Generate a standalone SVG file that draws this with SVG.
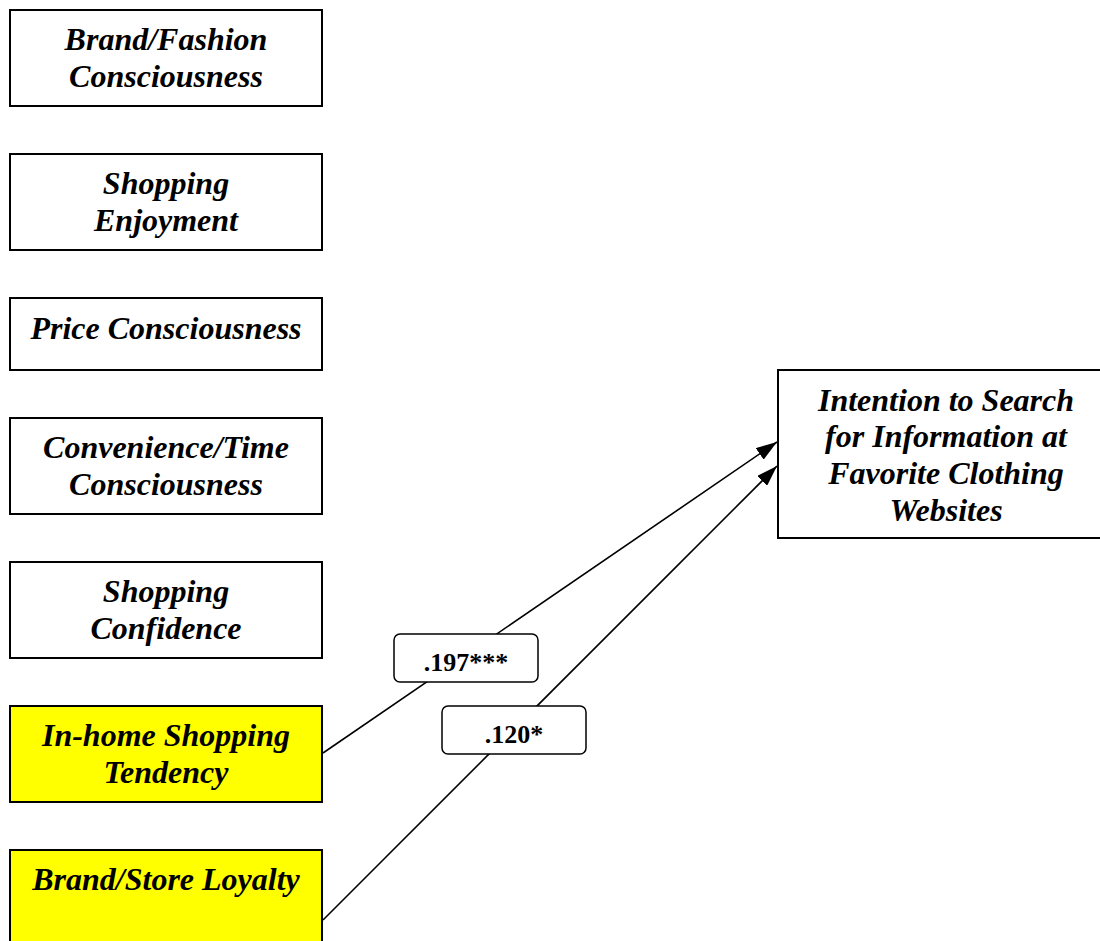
<svg xmlns="http://www.w3.org/2000/svg" width="1100" height="941" viewBox="0 0 1100 941">
  <style>
    .box { fill: #ffffff; stroke: #000000; stroke-width: 2; }
    .hl { fill: #ffff00; }
    .lbl { font-family: "Liberation Serif", "Times New Roman", serif; font-size: 32px; font-weight: bold; font-style: italic; text-anchor: middle; fill: #000000; }
    .coef { font-family: "Liberation Serif", "Times New Roman", serif; font-size: 26px; font-weight: bold; text-anchor: middle; fill: #000000; }
    .pill { fill: #ffffff; stroke: #000000; stroke-width: 1.5; }
    .edge { stroke: #000000; stroke-width: 1.6; fill: none; marker-end: url(#arrow); }
  </style>
  <defs>
    <marker id="arrow" markerUnits="userSpaceOnUse" markerWidth="22" markerHeight="14" refX="21" refY="7" orient="auto">
      <path d="M0,0 L21,7 L0,14 z" fill="#000000"/>
    </marker>
  </defs>

  <g id="node-brand-fashion">
    <rect class="box" x="10" y="10" width="312" height="96"/>
    <text class="lbl" x="166" y="50">Brand/Fashion</text>
    <text class="lbl" x="166" y="87">Consciousness</text>
  </g>
  <g id="node-shopping-enjoyment">
    <rect class="box" x="10" y="154" width="312" height="96"/>
    <text class="lbl" x="166" y="194">Shopping</text>
    <text class="lbl" x="166" y="231">Enjoyment</text>
  </g>
  <g id="node-price">
    <rect class="box" x="10" y="298" width="312" height="72"/>
    <text class="lbl" x="166" y="339">Price Consciousness</text>
  </g>
  <g id="node-convenience">
    <rect class="box" x="10" y="418" width="312" height="96"/>
    <text class="lbl" x="166" y="458">Convenience/Time</text>
    <text class="lbl" x="166" y="495">Consciousness</text>
  </g>
  <g id="node-confidence">
    <rect class="box" x="10" y="562" width="312" height="96"/>
    <text class="lbl" x="166" y="602">Shopping</text>
    <text class="lbl" x="166" y="639">Confidence</text>
  </g>
  <g id="node-inhome">
    <rect class="box hl" x="10" y="706" width="312" height="96"/>
    <text class="lbl" x="166" y="746">In-home Shopping</text>
    <text class="lbl" x="166" y="783">Tendency</text>
  </g>
  <g id="node-loyalty">
    <rect class="box hl" x="10" y="850" width="312" height="110"/>
    <text class="lbl" x="166" y="890">Brand/Store Loyalty</text>
  </g>
  <g id="node-intention">
    <rect class="box" x="778" y="370" width="336" height="168"/>
    <text class="lbl" x="946" y="411">Intention to Search</text>
    <text class="lbl" x="946" y="447">for Information at</text>
    <text class="lbl" x="946" y="484">Favorite Clothing</text>
    <text class="lbl" x="946" y="521">Websites</text>
  </g>

  <g id="connectors">
    <line class="edge" x1="323" y1="753" x2="777" y2="442"/>
    <line class="edge" x1="323" y1="920" x2="777" y2="466"/>
    <g id="coef-inhome">
      <rect class="pill" x="394" y="634" width="144" height="48" rx="6"/>
      <text class="coef" x="466" y="671">.197***</text>
    </g>
    <g id="coef-loyalty">
      <rect class="pill" x="442" y="706" width="144" height="48" rx="6"/>
      <text class="coef" x="514" y="743">.120*</text>
    </g>
  </g>
</svg>
